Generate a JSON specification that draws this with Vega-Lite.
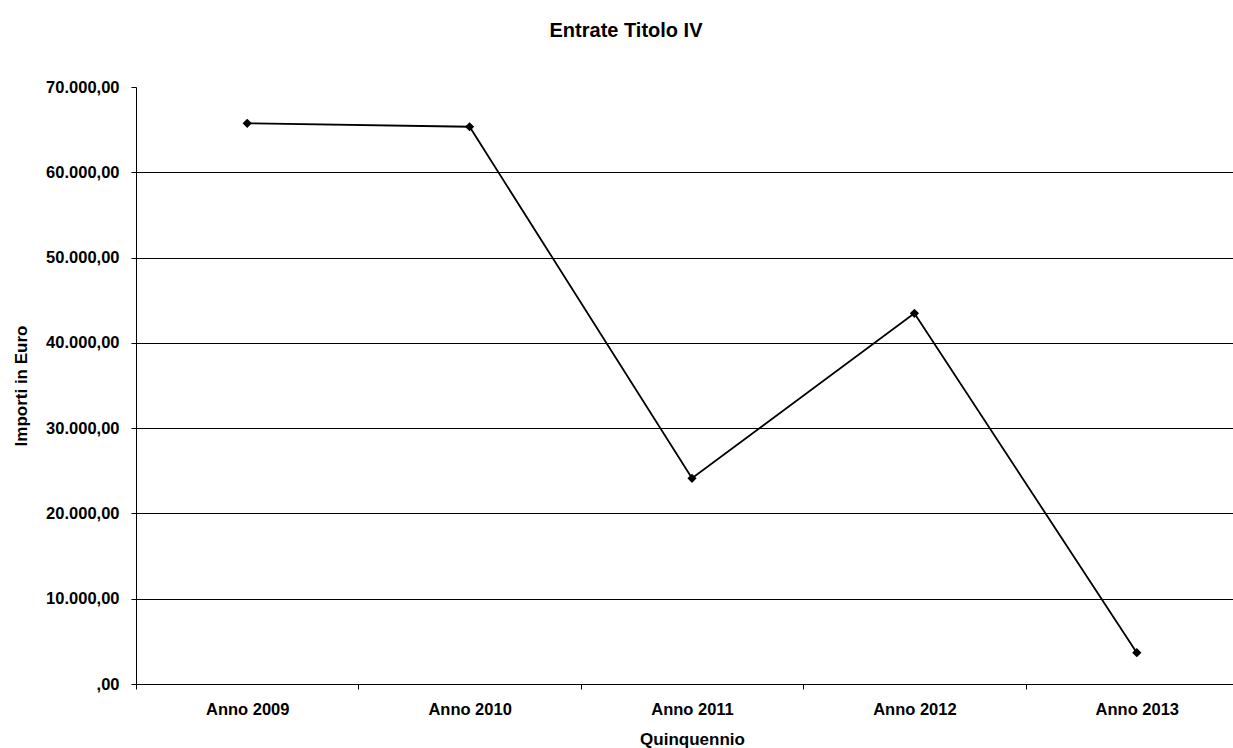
{
  "$schema": "https://vega.github.io/schema/vega-lite/v6.json",
  "width": 1084,
  "height": 597,
  "autosize": {"type": "none"},
  "padding": {"left": 136, "top": 87, "right": 13, "bottom": 64},
  "background": "white",
  "title": {
    "text": "Entrate Titolo IV",
    "font": "Liberation Sans",
    "fontSize": 20,
    "fontWeight": "bold",
    "color": "black",
    "anchor": "middle",
    "frame": "group",
    "baseline": "alphabetic",
    "dx": -52,
    "offset": 22
  },
  "config": {
    "view": {"stroke": null},
    "font": "Liberation Sans"
  },
  "data": {
    "values": [
      {"anno": "Anno 2009", "importo": 65740},
      {"anno": "Anno 2010", "importo": 65340},
      {"anno": "Anno 2011", "importo": 24120},
      {"anno": "Anno 2012", "importo": 43460},
      {"anno": "Anno 2013", "importo": 3670}
    ]
  },
  "encoding": {
    "x": {
      "field": "anno",
      "type": "nominal",
      "sort": null,
      "scale": {"type": "band", "range": [0, 1112], "paddingInner": 0, "paddingOuter": 0},
      "axis": {
        "title": "Quinquennio",
        "titleFont": "Liberation Sans",
        "titleFontSize": 17,
        "titleFontWeight": "bold",
        "titleColor": "black",
        "titlePadding": 14,
        "labelFont": "Liberation Sans",
        "labelFontSize": 16.5,
        "labelFontWeight": "bold",
        "labelColor": "black",
        "labelAngle": 0,
        "labelPadding": 12,
        "tickBand": "extent",
        "tickColor": "black",
        "tickSize": 5,
        "domain": false,
        "grid": false
      }
    },
    "y": {
      "field": "importo",
      "type": "quantitative",
      "scale": {"domain": [0, 70000], "nice": false},
      "axis": {
        "title": "Importi in Euro",
        "titleFont": "Liberation Sans",
        "titleFontSize": 17,
        "titleFontWeight": "bold",
        "titleColor": "black",
        "titlePadding": 15,
        "values": [0, 10000, 20000, 30000, 40000, 50000, 60000, 70000],
        "labelExpr": "datum.value == 0 ? ',00' : format(datum.value / 1000, 'd') + '.000,00'",
        "labelFont": "Liberation Sans",
        "labelFontSize": 16.5,
        "labelFontWeight": "bold",
        "labelColor": "black",
        "labelPadding": 12,
        "tickColor": "black",
        "tickSize": 5,
        "domainColor": "black",
        "domainWidth": 1,
        "grid": true,
        "gridColor": "black",
        "gridWidth": 1,
        "gridOpacity": {"condition": {"test": "datum.value == 70000", "value": 0}, "value": 1}
      }
    }
  },
  "layer": [
    {
      "mark": {"type": "line", "color": "black", "strokeWidth": 1.8}
    },
    {
      "mark": {"type": "point", "shape": "diamond", "filled": true, "color": "black", "size": 85, "opacity": 1}
    }
  ]
}
